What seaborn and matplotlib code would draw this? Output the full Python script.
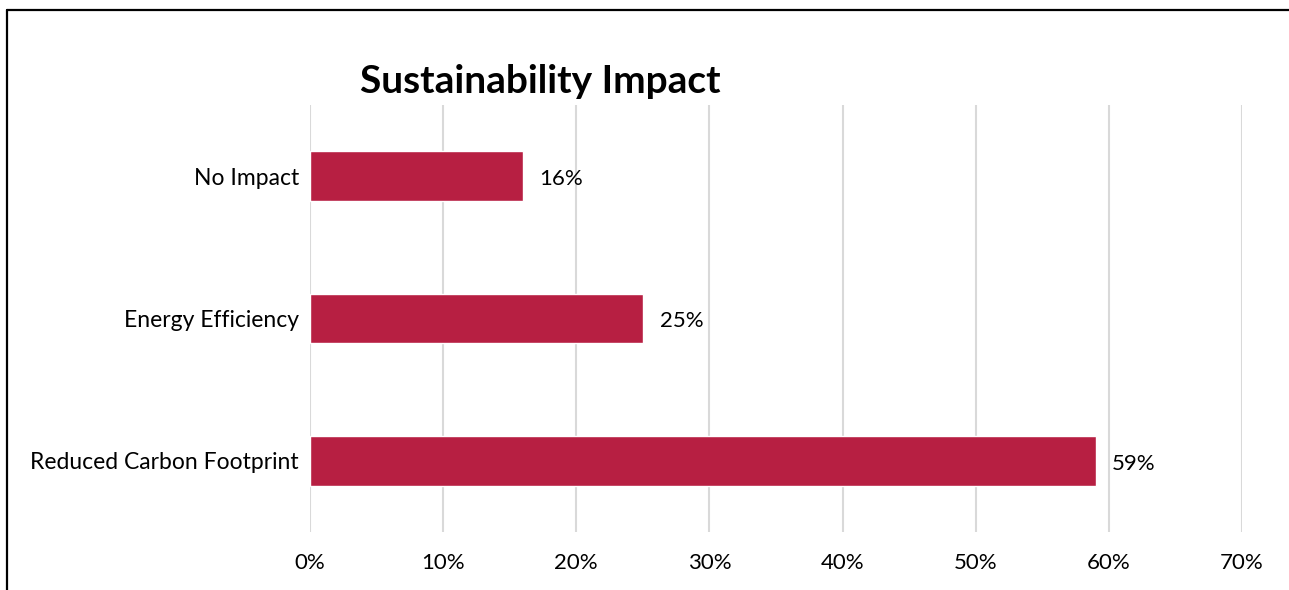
import matplotlib
matplotlib.use("Agg")
import matplotlib.pyplot as plt
import seaborn as sns
import pandas as pd
from matplotlib.lines import Line2D

categories = ["No Impact", "Energy Efficiency", "Reduced Carbon Footprint"]
values = [16, 25, 59]
x_ticks = [0, 10, 20, 30, 40, 50, 60, 70]
x_tick_labels = ["0%", "10%", "20%", "30%", "40%", "50%", "60%", "70%"]
title = "Sustainability Impact"

sns.set_theme(style="white")
plt.rcParams["font.family"] = ["Lato", "DejaVu Sans"]

df = pd.DataFrame({"category": categories, "value": values})

W, H = 1289, 590
fig = plt.figure(figsize=(W / 100, H / 100), dpi=100)
ax = fig.add_axes([310 / W, 1 - 532 / H, (1242 - 310) / W, (532 - 105) / H])

sns.barplot(data=df, x="value", y="category", orient="h", color="#B71F42",
            width=0.35, ax=ax, saturation=1)

ax.set_xlim(0, 70)
ax.set_ylim(2.5, -0.5)
ax.set_xticks(x_ticks)
ax.set_xticklabels(x_tick_labels, fontsize=16, color="#000000")
ax.tick_params(axis="x", length=0, pad=15)
ax.tick_params(axis="y", length=0, pad=8, labelsize=16.5, labelcolor="#000000")
ax.set_xlabel("")
ax.set_ylabel("")
ax.grid(axis="x", color="#D9D9D9", linewidth=1.5)
ax.grid(axis="y", visible=False)
ax.set_axisbelow(True)
for s in ax.spines.values():
    s.set_visible(False)

for i, v in enumerate(values):
    ax.annotate(f"{v}%", xy=(v, i), xytext=(12, -2), textcoords="offset points",
                va="center", ha="left", fontsize=16, color="#000000")

fig.text(540 / W, 1 - 93 / H, title, ha="center", va="baseline",
         fontsize=28, fontweight="bold", color="#000000")

# figure frame (top and left edges)
fig.add_artist(Line2D([7 / W, 1], [1 - 9.5 / H, 1 - 9.5 / H], transform=fig.transFigure,
                      color="#000000", linewidth=1.6))
fig.add_artist(Line2D([7 / W, 7 / W], [0, 1 - 9.5 / H], transform=fig.transFigure,
                      color="#000000", linewidth=1.6))

fig.savefig("out.png", dpi=100, facecolor="white")
